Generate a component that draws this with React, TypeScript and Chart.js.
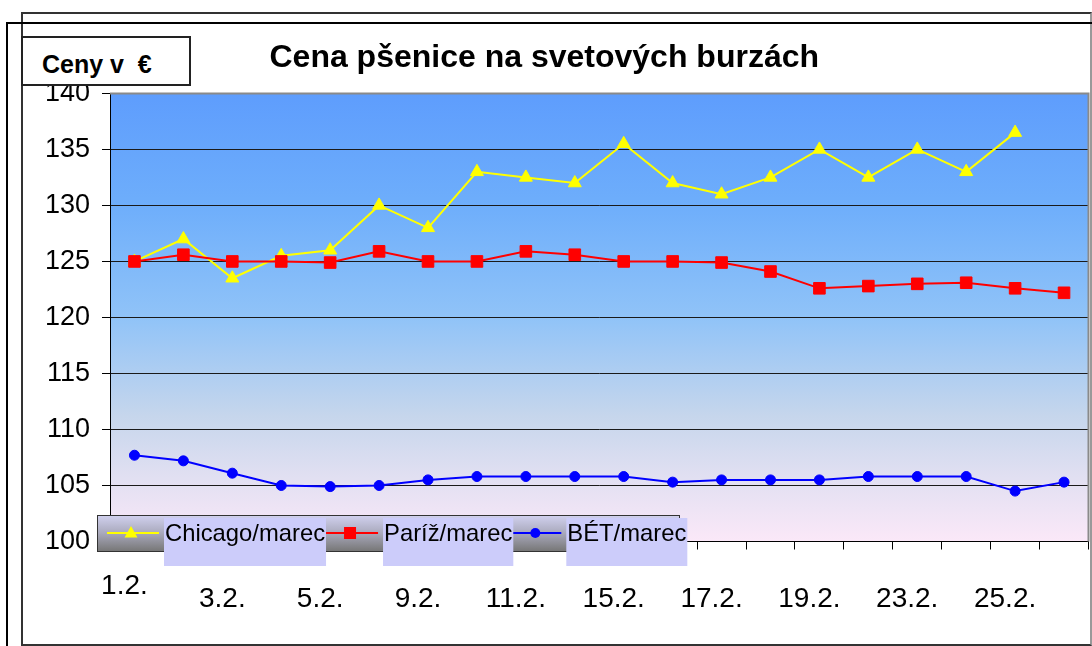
import React, { useEffect, useRef } from 'react';
import { Chart, registerables } from 'chart.js';

Chart.register(...registerables);

const FONT = '"Liberation Sans", Arial, sans-serif';

const categories = ['1.2.', '2.2.', '3.2.', '4.2.', '5.2.', '8.2.', '9.2.', '10.2.', '11.2.', '12.2.', '15.2.', '16.2.', '17.2.', '18.2.', '19.2.', '22.2.', '23.2.', '24.2.', '25.2.', '26.2.'];

const chicago = [125, 127, 123.5, 125.5, 126, 130, 128, 133, 132.5, 132, 135.5, 132, 131, 132.5, 135, 132.5, 135, 133, 136.5, null];
const pariz = [125, 125.6, 125, 125, 124.9, 125.9, 125, 125, 125.9, 125.6, 125, 125, 124.9, 124.1, 122.6, 122.8, 123, 123.1, 122.6, 122.2];
const bet = [107.7, 107.2, 106.1, 105.0, 104.9, 105.0, 105.5, 105.8, 105.8, 105.8, 105.8, 105.3, 105.5, 105.5, 105.5, 105.8, 105.8, 105.8, 104.5, 105.3];

const seriesNames = ['Chicago/marec', 'Paríž/marec', 'BÉT/marec'];
const titleText = 'Cena pšenice na svetových burzách';
const axisUnitText = 'Ceny v  €';

const bgPlugin = {
  id: 'plotBg',
  beforeDraw(chart: any) {
    const { ctx, chartArea: a } = chart;
    ctx.save();
    const g = ctx.createLinearGradient(0, a.top, 0, a.bottom);
    g.addColorStop(0, '#5e9dfd');
    g.addColorStop(0.25, '#6eaefb');
    g.addColorStop(0.5, '#90c3f8');
    g.addColorStop(0.72, '#c6d6ec');
    g.addColorStop(0.86, '#e2e0f2');
    g.addColorStop(1, '#fbe8f8');
    ctx.fillStyle = g;
    ctx.fillRect(a.left, a.top, a.right - a.left, a.bottom - a.top);
    ctx.restore();
  },
  beforeDatasetsDraw(chart: any) {
    const { ctx, chartArea: a } = chart;
    ctx.save();
    ctx.strokeStyle = '#8a8a8a';
    ctx.lineWidth = 2;
    ctx.beginPath();
    ctx.moveTo(a.left, a.top);
    ctx.lineTo(a.right, a.top);
    ctx.lineTo(a.right, a.bottom);
    ctx.stroke();
    ctx.restore();
  },
};

function drawMarker(ctx: CanvasRenderingContext2D, style: string, x: number, y: number, color: string) {
  ctx.fillStyle = color;
  ctx.beginPath();
  if (style === 'triangle') {
    ctx.moveTo(x, y - 7);
    ctx.lineTo(x + 6.5, y + 4.5);
    ctx.lineTo(x - 6.5, y + 4.5);
    ctx.closePath();
  } else if (style === 'rect') {
    ctx.rect(x - 6, y - 6, 12, 12);
  } else {
    ctx.arc(x, y, 5, 0, Math.PI * 2);
  }
  ctx.fill();
}

const legendPlugin = {
  id: 'excelLegend',
  afterDraw(chart: any) {
    const ctx = chart.ctx as CanvasRenderingContext2D;
    ctx.save();
    const barX = 97, barY = 515, barW = 582, barH = 36;
    const g = ctx.createLinearGradient(0, barY, 0, barY + barH);
    g.addColorStop(0, '#d2d2f0');
    g.addColorStop(0.5, '#a9a9bc');
    g.addColorStop(1, '#777777');
    ctx.fillStyle = g;
    ctx.fillRect(barX, barY, barW, barH);
    ctx.strokeStyle = '#333';
    ctx.lineWidth = 1;
    ctx.strokeRect(barX + 0.5, barY + 0.5, barW, barH);

    ctx.font = '23.8px ' + FONT;
    ctx.textBaseline = 'middle';
    ctx.textAlign = 'left';
    const midY = 533;
    const gaps = [57, 57, 53];
    let cursor = 107;
    chart.data.datasets.forEach((ds: any, i: number) => {
      const tx = cursor + gaps[i];
      ctx.strokeStyle = ds.borderColor;
      ctx.lineWidth = 2;
      ctx.beginPath();
      ctx.moveTo(cursor, midY);
      ctx.lineTo(tx - 5, midY);
      ctx.stroke();
      drawMarker(ctx, ds.pointStyle, cursor + (tx - 5 - cursor) / 2 - 2, midY, ds.borderColor);
      const w = ctx.measureText(ds.label).width;
      ctx.fillStyle = '#ccccfa';
      ctx.fillRect(tx, 518, w + 2, 48);
      ctx.fillStyle = '#000';
      ctx.fillText(ds.label, tx + 1, midY + 1);
      cursor = tx + w + 2;
    });
    ctx.restore();
  },
};

export default function App() {
  const canvasRef = useRef<HTMLCanvasElement | null>(null);

  useEffect(() => {
    if (!canvasRef.current) return;
    const chart = new Chart(canvasRef.current, {
      type: 'line',
      data: {
        labels: categories,
        datasets: [
          {
            label: seriesNames[0],
            data: chicago,
            borderColor: '#ffff00',
            backgroundColor: '#ffff00',
            pointStyle: 'triangle',
            pointRadius: 7.5,
            pointBorderWidth: 1,
            borderWidth: 2,
            order: 3,
          },
          {
            label: seriesNames[1],
            data: pariz,
            borderColor: '#ff0000',
            backgroundColor: '#ff0000',
            pointStyle: 'rect',
            pointRadius: 8.2,
            pointBorderWidth: 1,
            borderWidth: 2,
            order: 2,
          },
          {
            label: seriesNames[2],
            data: bet,
            borderColor: '#0000ff',
            backgroundColor: '#0000ff',
            pointStyle: 'circle',
            pointRadius: 5,
            pointBorderWidth: 1,
            borderWidth: 2,
            order: 1,
          },
        ],
      },
      options: {
        animation: false,
        responsive: true,
        maintainAspectRatio: false,
        layout: { autoPadding: false, padding: { top: 0, left: 0, right: 3.5, bottom: 34.5 } },
        plugins: {
          legend: { display: false },
          tooltip: { enabled: false },
          title: {
            display: true,
            text: titleText,
            color: '#000',
            font: { size: 32, weight: 'bold', family: FONT },
            padding: { top: 39, bottom: 16 },
          },
        },
        scales: {
          x: {
            type: 'category',
            offset: true,
            afterFit: (s: any) => { s.height = 70; s.paddingLeft = 0; s.paddingRight = 0; },
            grid: { offset: true, drawOnChartArea: false, tickLength: 8, color: '#000' },
            border: { color: '#000', width: 1 },
            ticks: {
              autoSkip: false,
              maxRotation: 0,
              color: '#000',
              padding: 0,
              labelOffset: -10,
              font: (c: any) => ({ size: 28, family: FONT, lineHeight: c.index === 0 ? '74px' : '100px' }),
              callback: (_v: any, i: number) => (i % 2 === 0 ? categories[i] : ''),
            },
          },
          y: {
            min: 100,
            max: 140,
            afterFit: (s: any) => { s.width = 110; },
            grid: {
              color: (c: any) => (c.tick && c.tick.value === 140 ? '#8a8a8a' : '#1a1a1a'),
              tickColor: '#000',
              tickLength: 8,
              lineWidth: 1,
            },
            border: { color: '#000', width: 1 },
            ticks: {
              stepSize: 5,
              color: '#000',
              padding: 12,
              font: { size: 27, family: FONT },
            },
          },
        },
      },
      plugins: [bgPlugin, legendPlugin],
    } as any);
    return () => chart.destroy();
  }, []);

  return (
    <div style={{ position: 'absolute', left: 0, top: 0, width: 1092, height: 646, overflow: 'hidden', background: '#fff' }}>
      <div style={{ position: 'absolute', left: 0, top: 0, width: 1092, height: 646 }}>
        <canvas ref={canvasRef} />
      </div>
      <div style={{ position: 'absolute', left: 21, top: 12, width: 1071, height: 634, boxSizing: 'border-box', border: '2px solid #333', borderRightColor: '#999', pointerEvents: 'none' }} />
      <div style={{ position: 'absolute', left: 6, top: 22, width: 1200, height: 700, boxSizing: 'border-box', border: '2px solid #000', pointerEvents: 'none' }} />
      <div style={{ position: 'absolute', left: 21, top: 36, width: 170, height: 50, boxSizing: 'border-box', border: '2px solid #222', background: '#fff', fontFamily: FONT, fontWeight: 'bold', fontSize: 25, whiteSpace: 'pre', paddingLeft: 19, paddingTop: 11, lineHeight: '30px', overflow: 'hidden', color: '#000' }}>
        {axisUnitText}
      </div>
    </div>
  );
}
